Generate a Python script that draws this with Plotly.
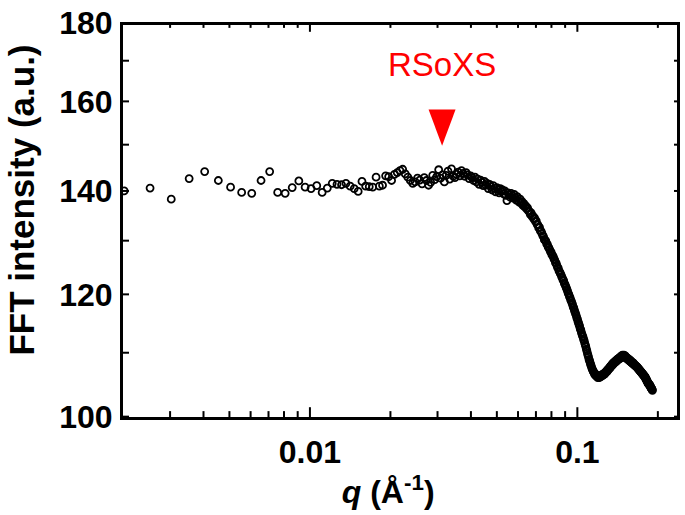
import math
import plotly.graph_objects as go

# q values of the FFT bins, in units of 1e-3 A^-1
q_milli = [
    2.02, 2.525, 3.03, 3.535, 4.04, 4.545,
    5.05, 5.555, 6.06, 6.565, 7.07, 7.575, 8.08, 8.585, 9.09, 9.595,
    10.1, 10.605, 11.11, 11.615, 12.12, 12.625, 13.13, 13.635, 14.14, 14.645,
    15.15, 15.655, 16.16, 16.665, 17.17, 17.675, 18.18, 18.685, 19.19, 19.695,
    20.2, 20.705, 21.21, 21.715, 22.22, 22.725, 23.23, 23.735, 24.24, 24.745,
    25.25, 25.755, 26.26, 26.765, 27.27, 27.775, 28.28, 28.785, 29.29, 29.795,
    30.3, 30.805, 31.31, 31.815, 32.32, 32.825, 33.33, 33.835, 34.34, 34.845,
    35.35, 35.855, 36.36, 36.865, 37.37, 37.875, 38.38, 38.885, 39.39, 39.895,
    40.4, 40.905, 41.41, 41.915, 42.42, 42.925, 43.43, 43.935, 44.44, 44.945,
    45.45, 45.955, 46.46, 46.965, 47.47, 47.975, 48.48, 48.985, 49.49, 49.995,
    50.5, 51.005, 51.51, 52.015, 52.52, 53.025, 53.53, 54.035, 54.54, 55.045,
    55.55, 56.055, 56.56, 57.065, 57.57, 58.075, 58.58, 59.085, 59.59, 60.095,
    60.6, 61.105, 61.61, 62.115, 62.62, 63.125, 63.63, 64.135, 64.64, 65.145,
    65.65, 66.155, 66.66, 67.165, 67.67, 68.175, 68.68, 69.185, 69.69, 70.195,
    70.7, 71.205, 71.71, 72.215, 72.72, 73.225, 73.73, 74.235, 74.74, 75.245,
    75.75, 76.255, 76.76, 77.265, 77.77, 78.275, 78.78, 79.285, 79.79, 80.295,
    80.8, 81.305, 81.81, 82.315, 82.82, 83.325, 83.83, 84.335, 84.84, 85.345,
    85.85, 86.355, 86.86, 87.365, 87.87, 88.375, 88.88, 89.385, 89.89, 90.395,
    90.9, 91.405, 91.91, 92.415, 92.92, 93.425, 93.93, 94.435, 94.94, 95.445,
    95.95, 96.455, 96.96, 97.465, 97.97, 98.475, 98.98, 99.485, 99.99, 100.495,
    101.0, 101.505, 102.01, 102.515, 103.02, 103.525, 104.03, 104.535, 105.04, 105.545,
    106.05, 106.555, 107.06, 107.565, 108.07, 108.575, 109.08, 109.585, 110.09, 110.595,
    111.1, 111.605, 112.11, 112.615, 113.12, 113.625, 114.13, 114.635, 115.14, 115.645,
    116.15, 116.655, 117.16, 117.665, 118.17, 118.675, 119.18, 119.685, 120.19, 120.695,
    121.2, 121.705, 122.21, 122.715, 123.22, 123.725, 124.23, 124.735, 125.24, 125.745,
    126.25, 126.755, 127.26, 127.765, 128.27, 128.775, 129.28, 129.785, 130.29, 130.795,
    131.3, 131.805, 132.31, 132.815, 133.32, 133.825, 134.33, 134.835, 135.34, 135.845,
    136.35, 136.855, 137.36, 137.865, 138.37, 138.875, 139.38, 139.885, 140.39, 140.895,
    141.4, 141.905, 142.41, 142.915, 143.42, 143.925, 144.43, 144.935, 145.44, 145.945,
    146.45, 146.955, 147.46, 147.965, 148.47, 148.975, 149.48, 149.985, 150.49, 150.995,
    151.5, 152.005, 152.51, 153.015, 153.52, 154.025, 154.53, 155.035, 155.54, 156.045,
    156.55, 157.055, 157.56, 158.065, 158.57, 159.075, 159.58, 160.085, 160.59, 161.095,
    161.6, 162.105, 162.61, 163.115, 163.62, 164.125, 164.63, 165.135, 165.64, 166.145,
    166.65, 167.155, 167.66, 168.165, 168.67, 169.175, 169.68, 170.185, 170.69, 171.195,
    171.7, 172.205, 172.71, 173.215, 173.72, 174.225, 174.73, 175.235, 175.74, 176.245,
    176.75, 177.255, 177.76, 178.265, 178.77, 179.275, 179.78, 180.285, 180.79, 181.295,
    181.8, 182.305, 182.81, 183.315, 183.82, 184.325, 184.83, 185.335, 185.84, 186.345,
    186.85, 187.355, 187.86, 188.365, 188.87, 189.375, 189.88, 190.385, 190.89,
]

# FFT intensity (a.u.)
fft_intensity = [
    140.0, 140.6, 138.3, 142.6, 144.1, 142.2,
    140.8, 139.7, 139.5, 142.2, 144.1, 139.7, 139.5, 140.7, 142.1, 140.8,
    140.5, 141.1, 139.7, 140.6, 141.6, 141.4, 141.3, 141.6, 141.0, 140.5,
    139.9, 142.0, 141.0, 140.9, 140.8, 142.9, 141.0, 141.2, 143.2, 143.0,
    142.2, 143.5, 143.9, 144.3, 144.6, 143.6, 142.9, 142.2, 141.6, 141.9,
    142.7, 142.3, 141.5, 142.8, 142.2, 141.2, 141.8, 143.3, 142.4, 143.0,
    144.5, 142.7, 143.4, 141.9, 143.3, 144.2, 142.5, 144.7, 143.1, 142.8,
    143.5, 144.0, 143.2, 144.3, 143.7, 143.1, 143.9, 143.4, 142.6, 143.2,
    142.8, 142.2, 142.9, 141.9, 142.5, 141.4, 142.3, 141.8, 141.1, 142.0,
    141.2, 141.6, 140.5, 141.4, 140.9, 140.2, 141.1, 140.6, 139.8, 140.7,
    140.3, 139.6, 140.5, 139.9, 140.2, 139.4, 140.0, 139.1, 138.0, 139.6,
    139.2, 138.7, 139.5, 139.0, 138.5, 139.3, 138.6, 138.1, 138.8, 138.0,
    137.7, 138.3, 137.5, 137.8, 137.0, 137.4, 136.7, 136.9, 136.3, 136.5,
    135.9, 135.8, 135.2, 135.5, 134.8, 134.9, 134.3, 134.5, 133.8, 133.9,
    133.2, 133.1, 132.5, 132.6, 131.9, 131.8, 131.4, 131.0, 130.8, 130.2,
    130.1, 129.9, 129.4, 129.3, 128.8, 128.6, 128.3, 127.9, 127.8, 127.3,
    127.2, 126.9, 126.5, 126.3, 125.8, 125.7, 125.3, 124.9, 124.8, 124.3,
    124.1, 123.8, 123.6, 123.2, 123.0, 122.6, 122.5, 122.0, 121.8, 121.5,
    121.2, 120.9, 120.6, 120.2, 120.0, 119.6, 119.4, 119.0, 118.8, 118.5,
    118.2, 117.8, 117.6, 117.2, 116.9, 116.6, 116.3, 115.9, 115.7, 115.3,
    115.0, 114.7, 114.4, 114.0, 113.8, 113.4, 113.1, 112.8, 112.6, 112.2,
    112.0, 111.6, 111.3, 111.0, 110.6, 110.3, 109.9, 109.6, 109.3, 108.9,
    108.7, 108.4, 108.1, 107.9, 107.6, 107.4, 107.2, 107.0, 106.9, 106.7,
    106.5, 106.6, 106.3, 106.4, 106.2, 106.3, 106.0, 106.2, 106.1, 106.0,
    106.2, 106.1, 106.3, 106.2, 106.4, 106.3, 106.5, 106.4, 106.6, 106.5,
    106.7, 106.6, 106.8, 106.9, 107.0, 106.9, 107.2, 107.1, 107.3, 107.4,
    107.4, 107.6, 107.5, 107.8, 107.7, 107.9, 108.0, 108.1, 108.0, 108.3,
    108.2, 108.4, 108.3, 108.5, 108.6, 108.5, 108.7, 108.6, 108.8, 108.9,
    108.8, 109.0, 108.9, 109.1, 109.0, 109.2, 109.2, 109.1, 109.4, 109.3,
    109.5, 109.3, 109.6, 109.4, 109.5, 109.3, 109.6, 109.4, 109.3, 109.5,
    109.2, 109.3, 109.1, 109.2, 109.0, 109.1, 108.9, 109.0, 108.8, 108.9,
    108.7, 108.8, 108.6, 108.7, 108.5, 108.6, 108.4, 108.4, 108.3, 108.4,
    108.2, 108.3, 108.1, 108.1, 108.0, 108.0, 107.9, 107.9, 107.8, 107.8,
    107.7, 107.7, 107.6, 107.5, 107.5, 107.4, 107.3, 107.3, 107.2, 107.1,
    107.1, 107.0, 106.9, 106.9, 106.8, 106.7, 106.7, 106.6, 106.5, 106.5,
    106.4, 106.3, 106.3, 106.2, 106.1, 106.1, 105.9, 105.9, 105.7, 105.7,
    105.5, 105.5, 105.3, 105.3, 105.1, 105.1, 105.0, 104.9, 104.9, 104.8,
    104.8, 104.6, 104.6, 104.4, 104.4, 104.3, 104.2, 104.1, 104.0,
]

# labelled (major) and unlabelled (minor) tick positions
x_major_ticks = [0.01, 0.1]
x_major_labels = ["0.01", "0.1"]
x_minor_ticks = [0.003, 0.004, 0.005, 0.006, 0.007, 0.008, 0.009,
                 0.02, 0.03, 0.04, 0.05, 0.06, 0.07, 0.08, 0.09, 0.2]
y_major_ticks = [100, 120, 140, 160, 180]
y_major_labels = ["100", "120", "140", "160", "180"]
y_minor_ticks = [110, 130, 150, 170]

x_range = [0.002, 0.242]
y_range = [99.95, 180.1]

x_title = "<i>q</i> (Å<sup>-1</sup>)&nbsp;&nbsp;&nbsp;"
y_title = "&nbsp;&nbsp;&nbsp;&nbsp;FFT intensity (a.u.)"

rsoxs_label = "RSoXS"
rsoxs_q = 0.0312          # q position of the RSoXS marker
rsoxs_marker_top = 158.1  # intensity level of the marker's top edge
rsoxs_label_level = 168.3

assert len(q_milli) == len(fft_intensity)
q = [v / 1000.0 for v in q_milli]

FONT = "Liberation Sans, Arial, sans-serif"
x_log_range = [math.log10(x_range[0]), math.log10(x_range[1])]
y_log_range = [math.log10(y_range[0]), math.log10(y_range[1])]

# pixel sizes converted to multiplicative factors on the log axes
PLOT_W, PLOT_H = 557.0, 403.0
px_per_decade_x = PLOT_W / (x_log_range[1] - x_log_range[0])
px_per_decade_y = PLOT_H / (y_log_range[1] - y_log_range[0])


def fx(px):
    return 10 ** (px / px_per_decade_x)


def fy(px):
    return 10 ** (px / px_per_decade_y)


fig = go.Figure()
fig.add_trace(go.Scatter(
    x=q, y=fft_intensity, mode="markers",
    marker=dict(symbol="circle-open", size=7, color="black",
                line=dict(width=1.8, color="black")),
    showlegend=False, hoverinfo="skip",
))

# RSoXS marker: downward triangle, 27 px wide and 37 px tall
half_w = fx(13.5)
tri_h = fy(37.0)
fig.add_trace(go.Scatter(
    x=[rsoxs_q / half_w, rsoxs_q * half_w, rsoxs_q, rsoxs_q / half_w],
    y=[rsoxs_marker_top, rsoxs_marker_top, rsoxs_marker_top / tri_h, rsoxs_marker_top],
    mode="lines", fill="toself", fillcolor="red",
    line=dict(width=0, color="red"), showlegend=False, hoverinfo="skip",
))
# RSoXS label
fig.add_trace(go.Scatter(
    x=[rsoxs_q], y=[rsoxs_label_level], mode="text", text=[rsoxs_label],
    textposition="middle center",
    textfont=dict(family=FONT, size=33, color="red"),
    showlegend=False, hoverinfo="skip",
))

# inward tick marks on all four sides of the frame
x_lo, x_hi = x_range
y_lo, y_hi = y_range
tx, ty = [], []
for tv, ln in [(v, 10) for v in x_major_ticks] + [(v, 6) for v in x_minor_ticks]:
    tx += [tv, tv, None, tv, tv, None]
    ty += [y_lo, y_lo * fy(ln), None, y_hi, y_hi / fy(ln), None]
for tv in y_major_ticks + y_minor_ticks:
    tx += [x_lo, x_lo * fx(6), None, x_hi, x_hi / fx(6), None]
    ty += [tv, tv, None, tv, tv, None]
fig.add_trace(go.Scatter(
    x=tx, y=ty, mode="lines", line=dict(color="black", width=2),
    showlegend=False, hoverinfo="skip",
))
# top and right edges of the frame (left and bottom are the axis lines)
fig.add_trace(go.Scatter(
    x=[x_lo, x_hi / fx(1.5), x_hi / fx(1.5)],
    y=[y_hi / fy(1.5), y_hi / fy(1.5), y_lo],
    mode="lines", line=dict(color="black", width=3),
    showlegend=False, hoverinfo="skip",
))

label_font = dict(family=FONT, size=32, color="black", weight="bold")

fig.update_layout(
    xaxis=dict(type="log", range=x_log_range, tickmode="array",
               tickvals=x_major_ticks, ticktext=x_major_labels, ticks="",
               showline=True, linewidth=3, linecolor="black",
               showgrid=False, zeroline=False,
               ticklabelstandoff=5, tickfont=label_font,
               title=dict(text=x_title, standoff=12,
                          font=dict(family=FONT, size=32, color="black", weight="bold"))),
    yaxis=dict(type="log", range=y_log_range, tickmode="array",
               tickvals=y_major_ticks, ticktext=y_major_labels, ticks="",
               showline=True, linewidth=3, linecolor="black",
               showgrid=False, zeroline=False,
               ticklabelstandoff=1, ticklabeloverflow="allow",
               tickfont=label_font,
               title=dict(text=y_title, standoff=14,
                          font=dict(family=FONT, size=35, color="black", weight="bold"))),
    width=685, height=515,
    margin=dict(l=123, r=5, t=14, b=98),
    paper_bgcolor="white", plot_bgcolor="white",
    showlegend=False,
)

# remove the default page margin so the 685x515 figure fills the window exactly
fig.write_html(
    "out.html",
    config={"displayModeBar": False},
    post_script="document.body.style.margin='0px';"
                "document.body.style.overflow='hidden';",
)
